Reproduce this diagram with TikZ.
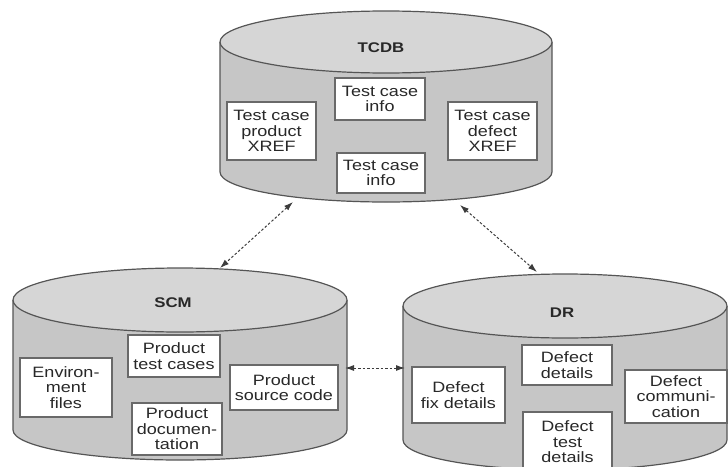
\documentclass[tikz,border=0pt]{standalone}
\usepackage{fontspec}
\setmainfont{Liberation Sans}[FakeStretch=1.2]
\usetikzlibrary{arrows.meta}

\definecolor{dbtopfill}{RGB}{214,214,214}
\definecolor{dbbodyfill}{RGB}{198,198,198}
\definecolor{dbline}{RGB}{85,85,85}
\definecolor{boxline}{RGB}{105,105,105}
\definecolor{textcol}{RGB}{40,40,40}
\definecolor{linkcol}{RGB}{60,60,60}

% database drum: centre x, top centre y, bottom centre y, x radius, top y radius, bottom y radius
\newcommand\dbdrum[6]{%
  \fill[dbbodyfill] (#1-#4,#2) -- (#1-#4,#3)
    arc[start angle=180,end angle=0,x radius=#4,y radius=#6] -- (#1+#4,#2) -- cycle;
  \draw[dbline,line width=1.2pt] (#1-#4,#2) -- (#1-#4,#3)
    arc[start angle=180,end angle=0,x radius=#4,y radius=#6] -- (#1+#4,#2);
  \draw[dbline,line width=1.2pt,fill=dbtopfill] (#1,#2) ellipse[x radius=#4,y radius=#5];
}

\tikzset{
  infobox/.style={draw=boxline,line width=1.4pt,fill=white,align=center,
    inner sep=1pt,text=textcol,font=\fontsize{15}{15.5}\selectfont},
  dbtitle/.style={text=textcol,font=\fontsize{14}{14}\selectfont\bfseries},
  link/.style={draw=linkcol,line width=1pt,dash pattern=on 2.5pt off 2pt,
    {Latex[length=9pt,width=6pt]}-{Latex[length=9pt,width=6pt]}},
}

\begin{document}
\begin{tikzpicture}[x=1pt,y=-1pt]
\useasboundingbox (0,0) rectangle (728,466);

% the three repositories
\dbdrum{386}{42}{172}{166}{31}{30}
\dbdrum{180}{300}{430}{167}{32}{30}
\dbdrum{565}{306}{440}{162}{32}{30}

\node[dbtitle] (tcdb) at (381,48) {TCDB};
\node[dbtitle] (scm) at (173,303) {SCM};
\node[dbtitle] (dr) at (562,313) {DR};

% TCDB contents
\node[infobox,minimum width=89pt,minimum height=58pt] (xprod) at (271.5,131) {Test case\\product\\XREF};
\node[infobox,minimum width=90pt,minimum height=42pt] (info1) at (380,99) {Test case\\info};
\node[infobox,minimum width=89pt,minimum height=58pt] (xdef) at (492.5,131) {Test case\\defect\\XREF};
\node[infobox,minimum width=88pt,minimum height=40pt] (info2) at (381,173) {Test case\\info};

% SCM contents
\node[infobox,minimum width=92pt,minimum height=59pt] (env) at (66,387.5) {Environ-\\ment\\files};
\node[infobox,minimum width=92pt,minimum height=42pt] (ptc) at (174,356) {Product\\test cases};
\node[infobox,minimum width=108pt,minimum height=45pt] (psc) at (284,387.5) {Product\\source code};
\node[infobox,minimum width=90pt,minimum height=52pt] (pdoc) at (177,429) {Product\\documen-\\tation};

% DR contents
\node[infobox,minimum width=93pt,minimum height=56pt] (fix) at (458.5,395) {Defect\\fix details};
\node[infobox,minimum width=90pt,minimum height=40pt] (dd) at (567,365) {Defect\\details};
\node[infobox,minimum width=102pt,minimum height=53pt] (comm) at (676,396.5) {Defect\\communi-\\cation};
\node[infobox,minimum width=89pt,minimum height=60pt] (dtd) at (567.5,442) {Defect\\test\\details};

% link end points on the drum outlines
\coordinate (tcdb-l) at (293,202);
\coordinate (tcdb-r) at (460,205);
\coordinate (scm-t) at (220,268);
\coordinate (dr-t) at (537,272);
\coordinate (scm-r) at (345,368);
\coordinate (dr-l) at (405,368);

\draw[link] (tcdb-l) -- (scm-t);
\draw[link] (tcdb-r) -- (dr-t);
\draw[link] (scm-r) -- (dr-l);
\end{tikzpicture}
\end{document}
